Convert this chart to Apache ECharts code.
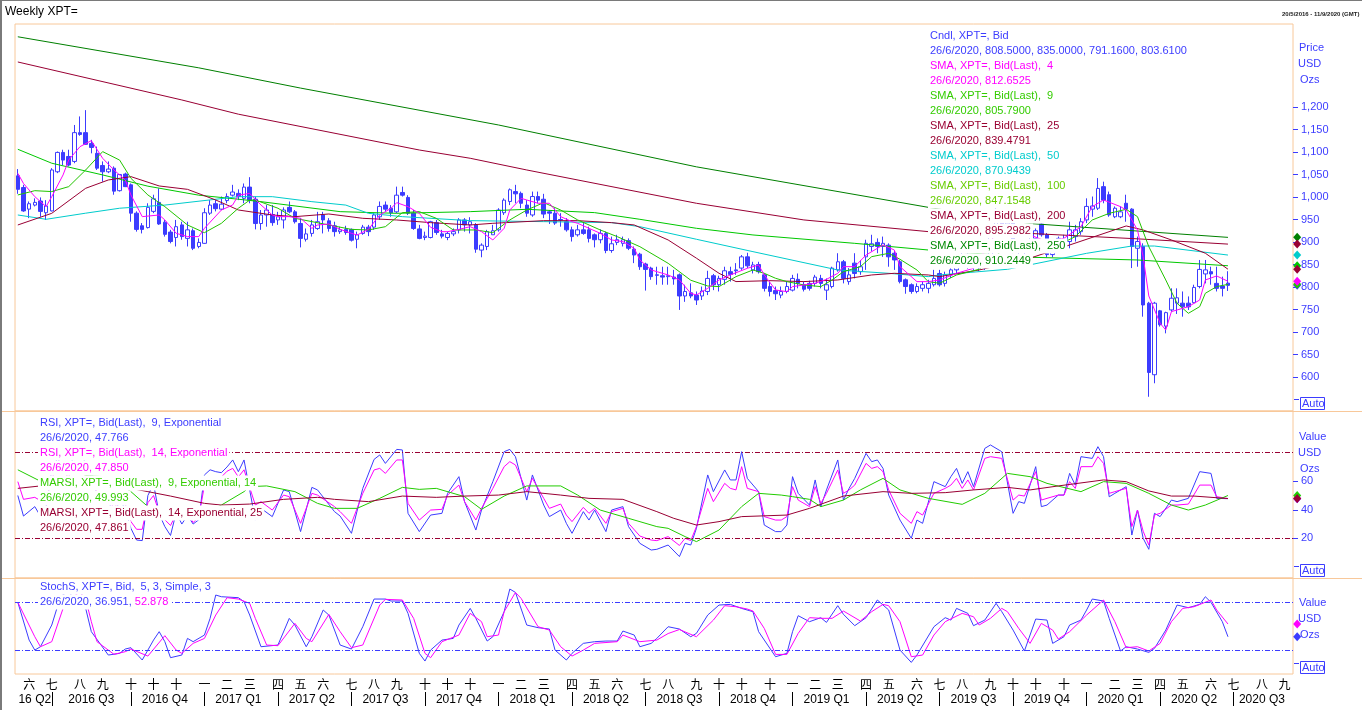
<!DOCTYPE html>
<html>
<head>
<meta charset="utf-8">
<title>Weekly XPT=</title>
<script src="https://cdn.jsdelivr.net/npm/echarts@6.0.0/dist/echarts.min.js"></script>
<style>
  html, body { margin: 0; padding: 0; background: #fff; }
  #chart { width: 1362px; height: 710px; }
</style>
</head>
<body>
<div id="chart"></div>
<script>
// weekly platinum bars, 20/5/2016 .. 26/6/2020, axis runs on to 11/9/2020
const weekCount = 226;
const startDay = Date.UTC(2016, 4, 20);

const candleOpen = [
  1047,1021,973,982,991,965,969,1056,1099,1090,
  1079,1143,1143,1119,1097,1070,1056,1064,1014,1051,
  1027,964,936,932,968,988,944,922,910,938,
  908,925,890,897,964,985,973,992,1004,1008,
  997,1022,995,941,960,961,949,949,977,967,
  941,906,919,930,960,947,936,923,928,928,
  906,919,933,933,956,982,975,967,1010,999,
  964,929,910,910,943,918,910,918,927,949,
  938,938,882,890,916,927,965,990,1012,1008,
  982,960,1001,995,967,964,950,945,927,916,
  927,927,916,905,919,881,899,897,903,884,
  873,851,842,827,825,823,822,827,780,787,
  782,780,790,825,805,817,834,838,842,867,
  838,850,827,801,792,782,790,793,817,805,
  808,808,819,793,801,838,856,812,853,834,
  867,890,899,890,893,875,856,816,805,790,
  797,797,805,830,808,827,838,850,862,850,
  860,843,868,935,950,940,945,882,880,912,
  908,940,916,872,882,896,901,912,923,949,
  973,975,1023,1005,956,956,986,973,886,890,
  764,605,747,713,749,764,764,764,765,801,
  829,834,808,802,808.5
];
const candleHigh = [
  1062,1027,990,997,999,993,1064,1101,1105,1105,
  1160,1179,1193,1127,1112,1079,1079,1068,1051,1054,
  1030,968,942,986,1005,1019,949,927,949,945,
  945,930,908,975,993,993,1001,1008,1027,1017,
  1030,1044,1001,971,982,982,967,977,990,971,
  953,930,949,967,967,953,945,934,936,930,
  923,938,938,964,990,990,982,1023,1023,1004,
  971,938,923,947,949,927,923,930,953,953,
  955,942,897,927,938,975,997,1019,1027,1012,
  993,1012,1012,1007,971,975,964,953,934,938,
  942,934,919,928,923,912,916,912,908,890,
  876,854,845,845,845,845,838,830,805,808,
  790,801,836,829,825,845,845,853,871,876,
  856,856,830,812,801,801,812,827,830,812,
  814,827,827,819,845,875,860,842,875,860,
  905,916,908,912,897,882,860,819,808,808,
  812,816,838,838,834,845,862,876,875,868,
  865,872,940,990,965,958,950,895,905,940,
  930,945,920,900,912,916,945,938,953,997,
  1001,1042,1034,1012,979,979,1005,975,912,897,
  767,767,749,745,797,797,790,779,805,860,
  860,845,845,823,835
];
const candleLow = [
  1007,967,953,979,956,949,968,1053,1071,1068,
  1075,1136,1116,1097,1060,1034,1053,1005,1012,1022,
  945,923,919,930,964,938,912,897,890,905,
  890,882,886,896,960,968,971,986,1001,993,
  986,986,928,927,934,936,938,930,964,941,
  888,901,912,927,919,923,912,918,916,901,
  886,916,913,927,949,967,956,964,1001,960,
  927,906,904,908,916,908,904,913,919,923,
  919,876,866,882,916,923,960,982,986,975,
  956,956,986,953,940,938,934,923,901,912,
  916,899,888,897,875,876,893,890,882,853,
  838,792,816,805,805,805,805,749,767,775,
  760,771,782,793,790,805,812,827,838,842,
  830,830,790,779,771,775,786,790,797,790,
  792,801,797,771,797,834,808,805,819,827,
  838,879,875,867,845,838,808,785,785,786,
  790,786,801,801,801,820,830,845,840,838,
  835,838,865,928,925,930,875,868,872,905,
  900,912,866,866,879,882,886,901,916,942,
  956,971,986,956,953,953,945,842,845,734,
  556,586,712,697,745,740,734,749,764,797,
  808,805,790,779,791.16
];
const candleClose = [
  1017,969,985,988,968,980,1060,1099,1082,1071,
  1143,1139,1117,1110,1064,1056,1062,1013,1050,1023,
  964,928,928,977,996,940,917,901,934,912,
  927,886,899,965,982,974,984,1001,1011,1001,
  1022,993,941,960,971,943,956,971,967,945,
  908,918,938,945,949,930,923,927,921,904,
  916,933,923,960,979,973,965,1004,1004,964,
  930,908,913,945,921,913,919,923,949,938,
  945,884,893,923,925,971,993,1016,1007,986,
  964,1001,993,962,964,942,949,927,912,927,
  919,908,905,919,881,896,905,905,886,871,
  845,839,823,826,822,825,818,780,790,780,
  771,791,819,805,819,836,828,836,867,847,
  849,834,797,790,785,790,801,819,808,795,
  797,822,808,805,842,856,819,827,830,845,
  897,896,890,897,867,860,812,801,790,801,
  805,808,819,805,827,838,850,862,850,860,
  843,868,935,950,940,945,882,880,893,927,
  925,916,872,885,908,906,927,927,945,979,
  980,1019,993,960,975,967,973,890,901,760,
  610,764,716,743,775,776,756,756,799,839,
  838,829,797,797,803.61
];

// moving averages as [week, value] vertices
const sma4 = [[0,1052.6],[1,1030],[3,1000.8],[5,978.6],[6,1000.8],[8,1049],[9,1082.3],[11,1111.9],[13,1125.2],[15,1086],[17,1060],[19,1037.8],[20,1004.5],[22,956.3],[25,960],[26,949],[28,919.3],[30,912],[32,912],[33,930.4],[36,971],[38,982.3],[39,1004],[41,1008],[43,982.2],[45,960],[46,956.3],[48,956.3],[50,952.6],[52,930.3],[53,937.7],[55,940],[57,928.1],[59,919.2],[60,915.5],[62,928.1],[64,960],[66,974.8],[67,987.4],[69,978.5],[71,963.7],[73,932.5],[75,922.9],[76,922.9],[78,928],[80,934],[82,923],[84,904.5],[86,930.4],[87,971.1],[89,997],[90,993.3],[92,986],[94,986],[96,956.3],[98,945.2],[99,941.5],[101,930.4],[103,919.3],[105,904.5],[107,900.8],[109,886],[110,860],[112,837.8],[115,826.7],[117,815.6],[119,786],[120,782.2],[122,797],[124,815.6],[126,826.7],[129,841.5],[131,848.9],[132,826.7],[134,793.4],[136,789.6],[137,800.8],[139,804.5],[141,808.2],[143,817],[145,830.4],[146,845.2],[148,845.2],[150,871.1],[152,885.9],[153,893.3],[155,882.2],[156,845.2],[159,811.9],[161,811.9],[163,815.6],[166,830.4],[169,841.5],[172,900],[174,940],[177,915],[179,915.6],[182,900.8],[185,908.2],[188,934],[190,978.5],[192,993.3],[195,978.5],[196,971.1],[198,926.7],[199,867.4],[200,780],[202,719.3],[203,704.5],[204,745.2],[205,748.9],[207,756.3],[209,771.1],[210,815.6],[212,824.5],[214,812.65]];
const sma9 = [[0,1004.5],[3,1014],[6,1012],[9,1023],[12,1060],[15,1100.8],[18,1082],[20,1041.5],[23,1004.5],[26,978.5],[30,937.8],[33,920.7],[36,941.5],[39,975],[41,993],[42,993.3],[46,975],[49,952.6],[52,945.2],[55,937.8],[59,928],[62,926.7],[65,934],[68,965.2],[71,967.4],[74,952.6],[77,926.7],[81,926.7],[84,920.7],[87,949],[90,971],[93,987.4],[96,971],[99,949],[103,926.7],[106,911.9],[110,889.6],[115,852.6],[119,815],[122,802.2],[124,800.8],[127,823],[130,837.8],[132,830.4],[134,819.3],[136,811.9],[139,804.5],[142,800.8],[144,815.6],[146,834],[149,845.2],[151,867.4],[154,874.8],[156,861.5],[159,837.8],[161,811.9],[163,808.2],[166,826.7],[170,839.3],[173,870],[176,900],[179,904.5],[184,893.3],[187,911.9],[190,948.9],[193,963.7],[196,972.6],[198,956.3],[200,889.6],[203,815.6],[205,763.7],[207,741.5],[209,756.3],[210,786],[212,800.8],[214,805.79]];
const sma25 = [[0,937.8],[6,963.7],[12,1019.3],[16,1037.8],[20,1045.2],[25,1024.5],[30,1017],[35,993.3],[39,971.1],[45,960],[49,956.3],[55,962.2],[61,952.6],[67,948.9],[73,943],[80,937.8],[84,941.5],[93,947.4],[99,947.4],[105,943],[109,937.8],[115,904.5],[120,864],[124,830.4],[127,812],[133,814],[139,812],[145,815.6],[151,826.7],[155,830.4],[161,826.7],[163,823],[170,837.8],[179,864],[186,893.3],[196,935.6],[199,926.7],[204,904.5],[210,875],[214,839.48]];
const sma50 = [[0,960],[5,950.4],[12,964],[18,975],[26,982],[39,1000.7],[45,1000.7],[52,989.6],[58,982],[62,963.7],[68,956.3],[80,947.4],[93,945.2],[105,943],[110,934],[120,906],[130,878.5],[145,837.8],[154,830.4],[161,823],[163,826.7],[175,839.3],[178,846.7],[189,874.8],[197,891],[201,891],[214,870.94]];
const sma100 = [[0,1106],[6,1075],[15,1049],[23,1024],[32,1004],[39,995],[43,989.6],[57,967.4],[67,963.7],[80,967.4],[90,972.6],[102,965.2],[110,950.4],[120,930.4],[130,915.6],[148,897],[161,882.2],[179,866],[198,860],[214,847.15]];
const sma200 = [[0,1300],[29,1215.6],[39,1184],[71,1104.4],[80,1086],[90,1060],[120,986],[139,949],[161,923],[179,919],[198,907],[214,895.3]];
const sma250 = [[0,1356],[32,1287],[50,1242],[85,1160],[120,1067],[161,977],[179,941],[214,910.24]];

// RSI panel
const rsi9 = [[0,50],[1,35.6],[3,42.2],[4,35.6],[5,42],[6,68],[7,76],[8,70],[9,66],[10,80],[11,79],[12,73],[13,66],[14,50],[15,45],[16,48],[17,33],[18,48],[19,40],[20,27],[21,18.8],[22,18.4],[23,50],[24,58],[25,37],[26,28.2],[27,22],[28,38],[29,30],[30,36],[31,30],[32,33],[33,64.4],[34,68],[35,66.7],[36,66],[37,70],[38,74.9],[39,66.7],[40,74.9],[42,32.8],[43,41],[45,35.2],[47,53.9],[48,52.7],[50,24.7],[52,55.7],[53,53.9],[56,38.7],[57,35.6],[59,23.5],[61,55],[63,75.3],[64,78.4],[65,72.5],[67,82.3],[68,81.9],[69,37.5],[71,24.7],[73,36.3],[75,37.5],[76,51.5],[78,63.2],[79,45.7],[81,25.8],[82,39.8],[84,59.7],[86,80.7],[87,82.3],[88,77.2],[90,46.8],[91,64.4],[93,43.3],[94,35.2],[96,39.8],[97,30.5],[98,23.5],[100,38.7],[101,32.8],[102,39.8],[104,24.7],[105,39.8],[107,42.2],[108,28.2],[110,16.5],[112,11.8],[113,12.3],[115,15.3],[117,7.2],[118,16.5],[119,15.3],[120,27],[122,64.4],[123,52.7],[125,67.9],[126,60.9],[127,60.9],[128,80.7],[129,62],[131,52.7],[132,29.3],[134,24.7],[135,24.7],[136,29.3],[137,63.2],[138,51.5],[140,43.3],[141,60.9],[142,42.2],[143,53.9],[145,74.9],[146,46.8],[147,55],[148,62],[150,79.5],[151,73.7],[152,74.9],[153,69],[154,50.3],[156,32.8],[158,20],[159,32.8],[160,30.5],[162,59.7],[164,56.2],[165,63.2],[166,69],[167,58.5],[168,66.7],[169,56.2],[171,83],[172,85.4],[174,80.7],[176,37.5],[177,45.7],[178,44.5],[180,70.2],[181,42.2],[182,43.3],[184,50.3],[185,50.3],[186,65.5],[187,57.3],[188,77.2],[190,76],[191,84.2],[192,77.2],[193,49.1],[194,51.5],[196,56.2],[197,22.3],[198,39.8],[199,20],[200,12.3],[201,37.5],[202,35.2],[204,46.8],[205,45.7],[207,48],[209,66.7],[211,65.5],[212,48],[214,47.77]];
const rsi14 = [[0,59.7],[1,47.3],[3,48.7],[4,46.4],[5,46],[6,62],[7,70],[8,66],[9,63],[10,74],[11,73],[12,69],[13,63],[14,52],[15,48],[16,50],[17,40],[18,49],[19,44],[20,31.7],[21,26.3],[22,26.3],[23,45],[24,50],[25,38],[26,33],[27,29],[28,37],[29,33],[30,38],[31,31],[32,35],[33,57],[34,62],[35,63],[36,63],[37,67],[38,69],[39,63],[40,68],[42,43.3],[43,45.7],[45,39.8],[47,50.3],[48,49.2],[50,30.5],[52,51.5],[53,50.3],[56,42.2],[57,38.7],[59,30.5],[61,51.5],[63,67.9],[64,69],[65,65.5],[67,74.9],[68,74.9],[69,44.5],[71,32.8],[73,39.8],[75,40.3],[76,50.3],[78,57.3],[79,45.7],[81,32.8],[82,41],[84,55],[86,70.2],[87,73.7],[88,71.4],[90,52.7],[91,62],[93,48],[94,41],[96,44],[97,36.3],[98,31.7],[100,41.7],[101,37.5],[102,41],[104,30.5],[105,38.7],[107,41],[108,30.5],[110,21.6],[112,18.8],[113,18.4],[115,21.2],[117,15],[118,20],[119,18.4],[120,28.2],[122,55],[123,45.7],[125,58.5],[126,55],[127,53.9],[128,70.2],[129,55],[131,52.7],[132,35.2],[134,32.8],[135,32.8],[136,35.2],[137,56.2],[138,46.8],[140,42.2],[141,56.2],[142,44.5],[143,51.5],[145,67.9],[146,51.5],[147,53.9],[148,57.3],[150,72.5],[151,69],[152,70.2],[153,66.7],[154,53.9],[156,37.5],[158,30.5],[159,38.7],[160,36.3],[162,51.5],[164,55],[165,57.3],[166,62],[167,55],[168,60.9],[169,53.9],[171,76],[172,77.2],[174,76],[176,46.8],[177,50.3],[178,49.6],[180,66.7],[181,46.8],[182,48],[184,50.3],[185,50.3],[186,59.7],[187,55],[188,70.2],[190,70.2],[191,77.2],[192,72.5],[193,51.5],[194,52.7],[196,55],[197,28.2],[198,39.8],[199,25],[200,15.3],[201,36.3],[202,37.5],[204,43.3],[205,43.3],[207,44],[209,57.3],[211,57.3],[212,49.2],[214,47.85]];
const marsi9 = [[0,68],[4,60],[8,56],[12,64],[16,63],[20,52.7],[23,42.2],[27,35],[31,34],[36,43.3],[40,52.7],[41,56.2],[44,56.7],[49,52.7],[53,44.5],[56,41],[60,41],[64,48],[68,55.7],[71,54.3],[74,55],[79,49.2],[82,40.3],[86,49.6],[90,56.7],[96,56.7],[99,50.3],[103,39.8],[108,34],[113,28.2],[115,27],[118,21.2],[120,17.7],[124,25.8],[128,42.2],[131,51.5],[135,50.3],[137,49.2],[140,47.3],[142,42.2],[146,46.8],[149,53.9],[153,62],[156,53.9],[161,48],[167,43.8],[171,51.5],[175,65.5],[179,63.2],[182,58.5],[188,52.7],[192,59.7],[196,58.5],[200,51.5],[204,43.3],[207,39.8],[210,43.3],[214,49.99]];
const marsi14 = [[0,55],[4,56.7],[10,58],[15,59],[20,55],[23,52.7],[27,49.6],[33,44.5],[36,43.3],[41,44],[47,47.3],[53,48.7],[56,47.3],[62,45.7],[68,49.6],[74,48.7],[79,49.6],[85,50.3],[90,52.7],[96,50.3],[101,48],[107,47.3],[113,38.7],[116,34],[120,29.3],[124,31.7],[128,35.2],[136,36.3],[140,41],[146,49.6],[153,52.7],[158,51.5],[164,52],[169,53.9],[175,55.7],[179,53.9],[184,56.7],[192,60.9],[196,59.7],[200,53.2],[204,49.6],[208,49.6],[214,47.86]];

// stochastic panel
const stochK = [[0,80],[2,32.8],[3,20.3],[4,24.5],[6,51.6],[7,74.5],[8,90],[9,86],[10,96],[11,97],[12,72.4],[13,43.3],[16,14.1],[18,16.2],[19,21.6],[20,23.3],[22,7.9],[24,32.8],[25,43.3],[26,30.8],[27,10.8],[29,14.1],[30,34.9],[31,30.8],[33,39.1],[34,59.9],[35,89.1],[36,87],[39,85.8],[40,80.8],[41,64.1],[43,24.5],[46,26.6],[48,59.9],[49,51.6],[51,24.5],[52,37],[54,70.4],[55,64.1],[57,26.6],[59,21.6],[61,49.5],[63,84.1],[65,84.1],[66,81.6],[68,81.6],[69,66.2],[71,16.2],[72,6.6],[73,20.3],[75,32.8],[77,34.9],[78,51.6],[80,72.4],[81,59.9],[83,31.6],[84,37],[86,68.3],[87,96.6],[88,92.4],[90,51.6],[92,48.3],[94,46.6],[95,20.3],[97,7.9],[98,16.2],[100,28.7],[102,30.8],[104,31.6],[106,31.6],[107,44.1],[109,39.1],[110,24.5],[112,28.7],[113,34.9],[115,49.5],[117,46.6],[119,37],[120,41.2],[122,64.1],[124,76.6],[126,77.4],[128,72.4],[130,68.3],[131,43.3],[134,12],[136,16.2],[137,43.3],[138,63.3],[140,55.8],[142,60.8],[143,54.9],[145,75.8],[146,65],[148,50.8],[150,60.8],[152,82.9],[153,76.6],[154,70.4],[156,20.3],[158,4.9],[159,14.1],[162,49.5],[164,60.8],[165,57.8],[166,72.4],[168,66.2],[169,50.8],[171,57.8],[173,78.7],[174,68.3],[176,45.3],[178,19.1],[180,59.1],[182,57.8],[183,28.7],[185,37],[186,51.6],[188,57.8],[189,70.4],[190,84.1],[192,81.6],[193,59.9],[195,19.1],[196,24.5],[198,21.6],[200,17.4],[201,22.4],[203,45.3],[205,76.6],[207,73.3],[209,77.4],[210,87],[211,80],[213,55.8],[214,36.95]];
const stochD = [[0,80],[3,37],[4,24.5],[6,30.8],[8,72.4],[9,84],[10,88],[11,93],[12,84],[13,55.8],[14,30.8],[17,15],[19,18.3],[20,21.6],[23,12.8],[26,38.3],[28,20.3],[29,16.2],[31,28.7],[33,34.9],[35,64.1],[37,85.8],[39,84.1],[41,78.7],[42,59.9],[44,26.6],[46,25.8],[49,53.7],[51,34.9],[52,30.8],[55,64.9],[57,43.3],[59,23.3],[61,26.6],[64,76.6],[65,83.7],[68,82.9],[70,59.9],[72,16.2],[73,10.8],[75,30.8],[78,39.1],[80,66.2],[82,55.8],[83,37],[85,39.1],[86,68.3],[88,92.4],[89,84.9],[92,49.5],[94,45.3],[96,24.5],[98,12.8],[100,20.3],[102,28.7],[106,30.8],[107,39.1],[110,30.8],[113,32.8],[115,41],[117,46],[120,37],[123,57.8],[125,75.8],[127,74.5],[129,71.6],[130,69.1],[132,47.4],[134,14.9],[136,14.9],[138,41.2],[140,60.8],[142,60],[144,60],[146,69.1],[149,56.6],[151,68.3],[153,77.4],[154,75.8],[156,55.8],[158,12],[160,14.1],[162,39.1],[164,55.8],[167,66.2],[169,62],[170,51.6],[172,60],[174,72.4],[175,68.3],[177,47.4],[179,28.7],[181,53.7],[183,45.3],[184,34.1],[186,43.3],[189,64.1],[191,76.6],[192,82.9],[194,55.8],[196,23.3],[198,24.5],[200,19.1],[202,28.7],[204,55.8],[206,72.4],[208,74.5],[211,82.9],[212,70.4],[214,52.88]];

// ticks and labels
const priceTicks = [600, 650, 700, 750, 800, 850, 900, 950, 1000, 1050, 1100, 1150, 1200];
const rsiTicks = [20, 40, 60];
const bandLevels = [80, 20];
const monthNames = ['一', '二', '三', '四', '五', '六', '七', '八', '九', '十', '十', '十'];
const quarterLabels = ['16 Q2', '2016 Q3', '2016 Q4', '2017 Q1', '2017 Q2', '2017 Q3', '2017 Q4',
  '2018 Q1', '2018 Q2', '2018 Q3', '2018 Q4', '2019 Q1', '2019 Q2', '2019 Q3', '2019 Q4',
  '2020 Q1', '2020 Q2', '2020 Q3'];

const blue = '#3c3cff', magenta = '#ff00ff', maroon = '#990033', cyan = '#00cccc';
const green9 = '#22c400', green100 = '#00c800', green250 = '#008000', orange = '#f8c89a';
const legendFont = '11px "Liberation Sans", Arial, sans-serif';

const weeks = [];
for (let k = 0; k < weekCount; k++) {
  weeks.push(new Date(startDay + k * 7 * 86400000).toISOString().slice(0, 10));
}
const lastIdx = weeks.length - 1;

const quarterStarts = [];
weeks.forEach((d, i) => {
  const m = +d.slice(5, 7), day = +d.slice(8, 10);
  if (day <= 7 && m % 3 === 1) quarterStarts.push(i);
});
const bounds = [0].concat(quarterStarts, [lastIdx]);
const quarterAt = {};
quarterLabels.forEach((lab, k) => { quarterAt[Math.floor((bounds[k] + bounds[k + 1]) / 2)] = lab; });

const candles = candleOpen.map((o, i) => [o, candleClose[i], candleLow[i], candleHigh[i]]);

function endMarker(color, value) {
  return {
    silent: true, symbol: 'diamond', symbolSize: [8, 9], symbolOffset: [7, 0],
    label: { show: false }, itemStyle: { color: color },
    data: [{ coord: [lastIdx, value] }]
  };
}

function lineSeries(data, color, g) {
  return {
    type: 'line', xAxisIndex: g, yAxisIndex: g, data: data,
    showSymbol: false, symbol: 'none', silent: true, z: 3,
    lineStyle: { color: color, width: 1 }, itemStyle: { color: color },
    markPoint: endMarker(color, data[data.length - 1][1])
  };
}

function bandLines(color) {
  return {
    silent: true, symbol: ['none', 'none'], label: { show: false },
    lineStyle: { color: color, width: 1, type: [5, 2, 1, 2] },
    data: bandLevels.map(v => ({ yAxis: v }))
  };
}

// legend lines sit on white boxes that hide the plot underneath, as in the original
const measureCtx = document.createElement('canvas').getContext('2d');
function textWidth(t) { measureCtx.font = legendFont; return measureCtx.measureText(t).width; }

function boxedLine(text, x, y, fillOrRich) {
  const plain = text.replace(/\{[a-z]\|/g, '').replace(/\}/g, '');
  const box = { type: 'rect', z: 99, silent: true,
    shape: { x: x - 2, y: y - 7.5, width: textWidth(plain) + 4, height: 15 },
    style: { fill: '#fff' } };
  const style = { text: text, font: legendFont, verticalAlign: 'middle' };
  if (typeof fillOrRich === 'string') style.fill = fillOrRich; else style.rich = fillOrRich;
  return [box, { type: 'text', z: 100, silent: true, x: x, y: y, style: style }];
}

function textBlock(lines, x, y0) {
  let out = [];
  lines.forEach((ln, k) => { out = out.concat(boxedLine(ln[0], x, y0 + k * 15, ln[1])); });
  return out;
}

function plainText(text, x, y, color, font) {
  return { type: 'text', z: 100, silent: true, x: x, y: y,
    style: { text: text, fill: color, font: font || legendFont, verticalAlign: 'middle' } };
}

function autoBox(y) {
  return [
    { type: 'line', z: 100, shape: { x1: 1294, y1: y + 1.5, x2: 1299, y2: y + 1.5 }, style: { stroke: blue, lineWidth: 1 } },
    { type: 'rect', z: 100, shape: { x: 1300.5, y: y - 0.5, width: 24, height: 12 }, style: { fill: '#fff', stroke: blue, lineWidth: 1 } },
    plainText('Auto', 1302, y + 5.5, blue)
  ];
}

const priceLegend = [
  ['Cndl, XPT=, Bid', blue],
  ['26/6/2020, 808.5000, 835.0000, 791.1600, 803.6100', blue],
  ['SMA, XPT=, Bid(Last),  4', magenta],
  ['26/6/2020, 812.6525', magenta],
  ['SMA, XPT=, Bid(Last),  9', '#33cc00'],
  ['26/6/2020, 805.7900', '#33cc00'],
  ['SMA, XPT=, Bid(Last),  25', maroon],
  ['26/6/2020, 839.4791', maroon],
  ['SMA, XPT=, Bid(Last),  50', cyan],
  ['26/6/2020, 870.9439', cyan],
  ['SMA, XPT=, Bid(Last),  100', '#66cc00'],
  ['26/6/2020, 847.1548', '#66cc00'],
  ['SMA, XPT=, Bid(Last),  200', maroon],
  ['26/6/2020, 895.2982', maroon],
  ['SMA, XPT=, Bid(Last),  250', '#008800'],
  ['26/6/2020, 910.2449', '#008800']
];
const rsiLegend = [
  ['RSI, XPT=, Bid(Last),  9, Exponential', blue],
  ['26/6/2020, 47.766', blue],
  ['RSI, XPT=, Bid(Last),  14, Exponential', magenta],
  ['26/6/2020, 47.850', magenta],
  ['MARSI, XPT=, Bid(Last),  9, Exponential, 14', '#33cc00'],
  ['26/6/2020, 49.993', '#33cc00'],
  ['MARSI, XPT=, Bid(Last),  14, Exponential, 25', maroon],
  ['26/6/2020, 47.861', maroon]
];
const stochLegend = [
  ['StochS, XPT=, Bid,  5, 3, Simple, 3', blue],
  ['{a|26/6/2020, 36.951, }{b|52.878}', { a: { fill: blue, font: legendFont }, b: { fill: magenta, font: legendFont } }]
];

const graphics = [].concat(
  [
    { type: 'rect', z: 100, shape: { x: 0, y: 0, width: 1362, height: 1 }, style: { fill: '#7a7a7a' } },
    { type: 'rect', z: 100, shape: { x: 0, y: 0, width: 2, height: 710 }, style: { fill: '#7a7a7a' } },
    { type: 'line', z: 90, shape: { x1: 0, y1: 411.5, x2: 1362, y2: 411.5 }, style: { stroke: orange, lineWidth: 1 } },
    { type: 'line', z: 90, shape: { x1: 0, y1: 578.5, x2: 1362, y2: 578.5 }, style: { stroke: orange, lineWidth: 1 } },
    plainText('Weekly XPT=', 5, 12, '#000', '12px "Liberation Sans", Arial, sans-serif'),
    plainText('20/5/2016 - 11/9/2020 (GMT)', 1282, 14, '#222', 'bold 6px "Liberation Sans", Arial, sans-serif'),
    plainText('Price', 1299, 48, blue), plainText('USD', 1298, 64, blue), plainText('Ozs', 1300, 80, blue),
    plainText('Value', 1299, 437, blue), plainText('USD', 1298, 453, blue), plainText('Ozs', 1300, 469, blue),
    plainText('Value', 1299, 603, blue), plainText('USD', 1298, 619, blue), plainText('Ozs', 1300, 635, blue)
  ],
  autoBox(398), autoBox(565), autoBox(662),
  textBlock(priceLegend, 930, 36),
  textBlock(rsiLegend, 40, 423),
  textBlock(stochLegend, 40, 587)
);

const hiddenX = (g) => ({
  type: 'category', gridIndex: g, data: weeks,
  axisLine: { show: false }, axisTick: { show: false }, axisLabel: { show: false }, splitLine: { show: false }
});

const option = {
  animation: false,
  backgroundColor: '#fff',
  grid: [
    { left: 15, right: 69, top: 24, height: 387, show: true, borderColor: orange, borderWidth: 1 },
    { left: 15, right: 69, top: 411, height: 167, show: true, borderColor: orange, borderWidth: 1 },
    { left: 15, right: 69, top: 578, height: 96, show: true, borderColor: orange, borderWidth: 1 }
  ],
  xAxis: [
    hiddenX(0),
    hiddenX(1),
    {
      type: 'category', gridIndex: 2, data: weeks,
      axisLine: { show: false }, axisTick: { show: false }, splitLine: { show: false },
      axisLabel: {
        interval: (i, v) => +v.slice(8, 10) <= 7,
        formatter: v => monthNames[+v.slice(5, 7) - 1],
        color: '#000', fontSize: 12, margin: 4, fontFamily: '"Noto Sans CJK SC", sans-serif'
      }
    },
    {
      type: 'category', gridIndex: 2, data: weeks, position: 'bottom', offset: 18,
      axisLine: { show: false }, splitLine: { show: false },
      axisTick: { show: true, alignWithLabel: true, length: 14,
        interval: i => quarterStarts.indexOf(i) >= 0, lineStyle: { color: '#000', width: 1 } },
      axisLabel: {
        interval: i => quarterAt[i] !== undefined,
        formatter: (v, i) => quarterAt[i] || '',
        color: '#000', fontSize: 12, margin: 2, fontFamily: '"Liberation Sans", Arial, sans-serif'
      }
    }
  ],
  yAxis: [
    {
      type: 'value', gridIndex: 0, position: 'right', min: 524.4, max: 1384.4,
      axisLine: { show: false }, splitLine: { show: false },
      axisTick: { show: true, length: 5, customValues: priceTicks, lineStyle: { color: blue } },
      axisLabel: { customValues: priceTicks, color: blue, fontSize: 11, margin: 8,
        fontFamily: '"Liberation Sans", Arial, sans-serif', formatter: v => v.toLocaleString('en-US') }
    },
    {
      type: 'value', gridIndex: 1, position: 'right', min: -7.8, max: 109.2,
      axisLine: { show: false }, splitLine: { show: false },
      axisTick: { show: true, length: 5, customValues: rsiTicks, lineStyle: { color: blue } },
      axisLabel: { customValues: rsiTicks, color: blue, fontSize: 11, margin: 8,
        fontFamily: '"Liberation Sans", Arial, sans-serif' }
    },
    {
      type: 'value', gridIndex: 2, position: 'right', min: -9.6, max: 110.4,
      axisLine: { show: false }, splitLine: { show: false },
      axisTick: { show: false }, axisLabel: { show: false }
    }
  ],
  graphic: { elements: graphics },
  series: [
    {
      type: 'candlestick', xAxisIndex: 0, yAxisIndex: 0, data: candles, barWidth: 4, silent: true,
      itemStyle: { color: '#fff', color0: blue, borderColor: blue, borderColor0: blue, borderWidth: 1 },
      markPoint: endMarker(blue, candleClose[candleClose.length - 1])
    },
    lineSeries(sma250, green250, 0),
    lineSeries(sma200, maroon, 0),
    lineSeries(sma100, green100, 0),
    lineSeries(sma50, cyan, 0),
    lineSeries(sma25, maroon, 0),
    lineSeries(sma9, green9, 0),
    lineSeries(sma4, magenta, 0),
    Object.assign(lineSeries(rsi9, blue, 1), { markLine: bandLines(maroon) }),
    lineSeries(rsi14, magenta, 1),
    lineSeries(marsi9, '#22cc00', 1),
    lineSeries(marsi14, maroon, 1),
    Object.assign(lineSeries(stochK, blue, 2), { markLine: bandLines(blue) }),
    lineSeries(stochD, magenta, 2)
  ]
};

const chart = echarts.init(document.getElementById('chart'));
chart.setOption(option);
</script>
</body>
</html>
